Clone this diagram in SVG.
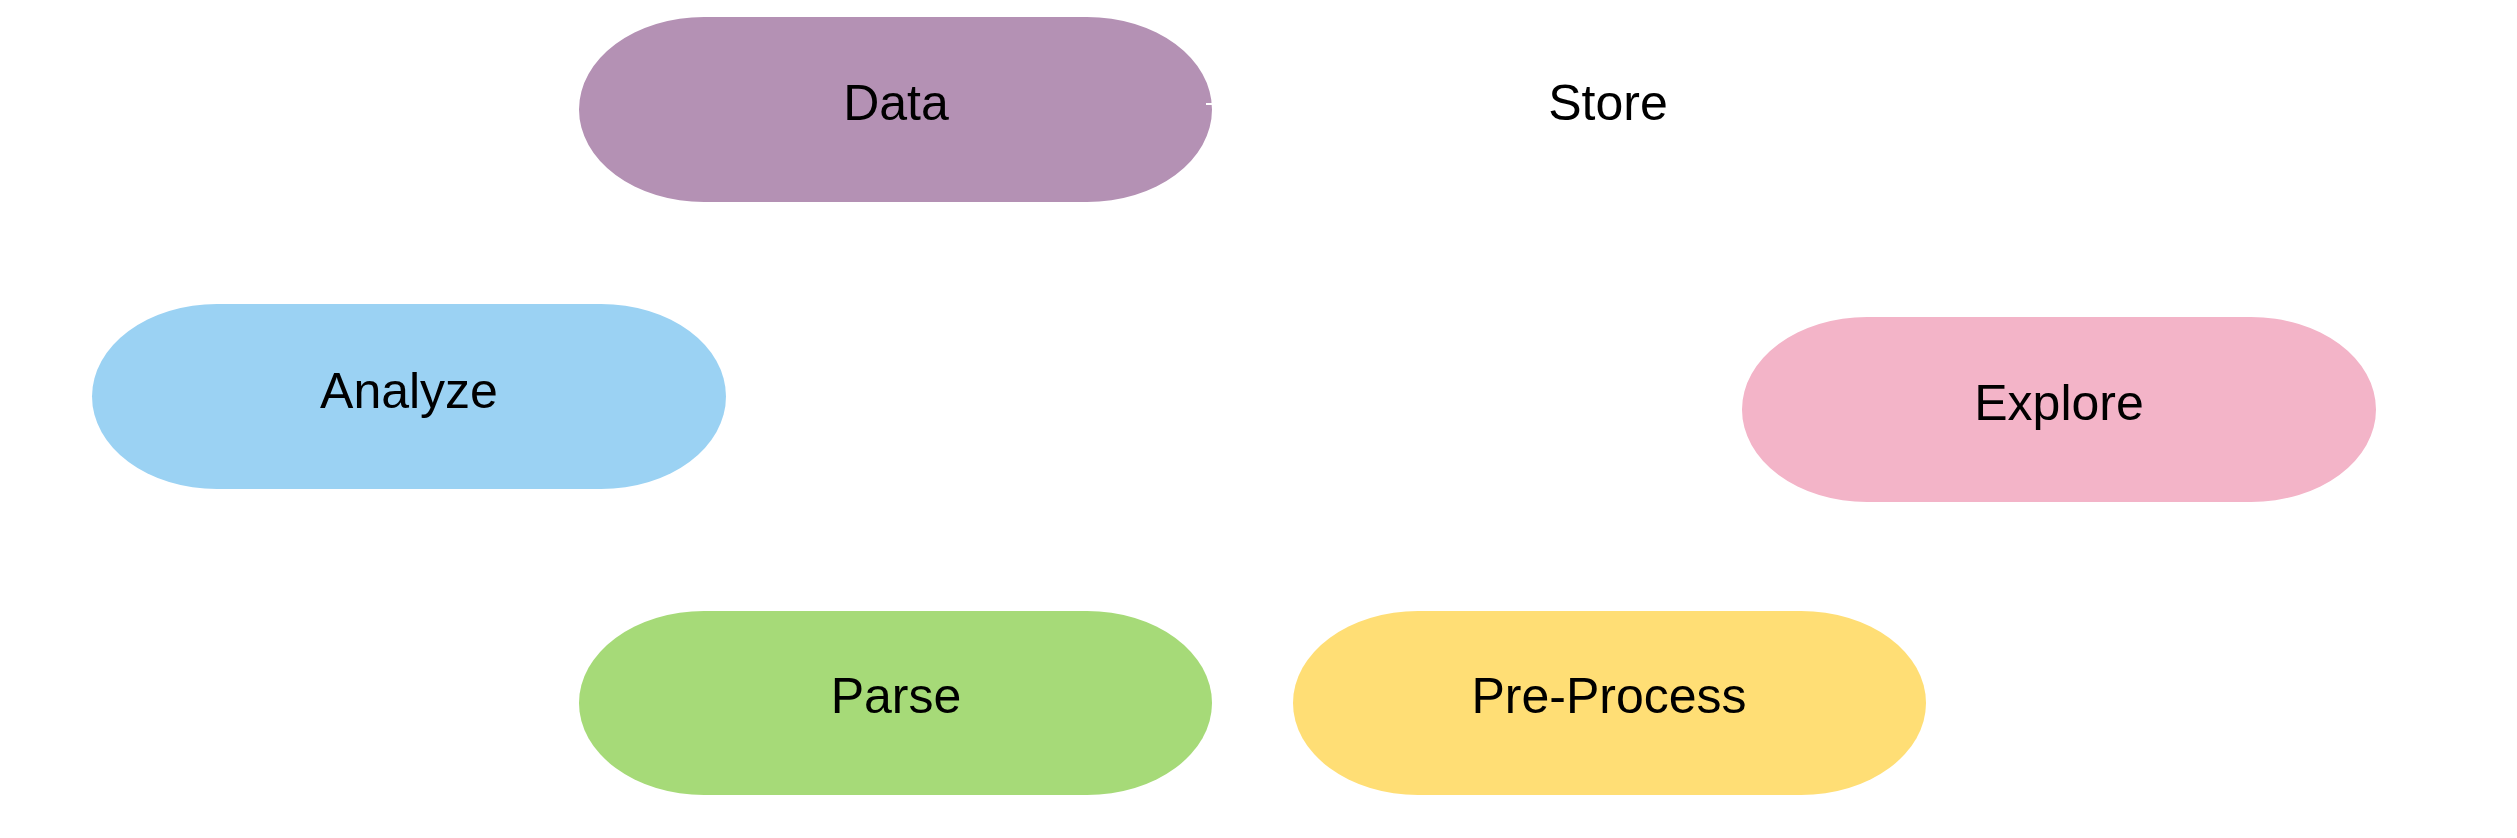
<svg xmlns="http://www.w3.org/2000/svg" width="2517" height="838" viewBox="0 0 2517 838">
<style>
.lbl{font-family:"Liberation Sans",Arial,sans-serif;font-size:50px;fill:#000;text-anchor:middle}
.conn{stroke:#ffffff;stroke-width:2;fill:none}
</style>
<rect x="0" y="0" width="2517" height="838" fill="#ffffff"/>
<g id="node-data">
<path d="M704,17 H1087 A125,92.5 0 0 1 1087,202 H704 A125,92.5 0 0 1 704,17 Z" fill="#b491b4"/>
<text class="lbl" x="896" y="120">Data</text>
</g>
<g id="node-store">
<text class="lbl" x="1608" y="120">Store</text>
</g>
<g id="node-analyze">
<path d="M217,304 H601 A125,92.5 0 0 1 601,489 H217 A125,92.5 0 0 1 217,304 Z" fill="#9bd2f3"/>
<text class="lbl" x="409" y="408">Analyze</text>
</g>
<g id="node-explore">
<path d="M1867,317 H2251 A125,92.5 0 0 1 2251,502 H1867 A125,92.5 0 0 1 1867,317 Z" fill="#f3b4c8"/>
<text class="lbl" x="2059" y="420">Explore</text>
</g>
<g id="node-parse">
<path d="M704,611 H1087 A125,92 0 0 1 1087,795 H704 A125,92 0 0 1 704,611 Z" fill="#a6da78"/>
<text class="lbl" x="896" y="713">Parse</text>
</g>
<g id="node-preprocess">
<path d="M1418,611 H1801 A125,92 0 0 1 1801,795 H1418 A125,92 0 0 1 1418,611 Z" fill="#ffde75"/>
<text class="lbl" x="1609" y="713">Pre-Process</text>
</g>
<g id="connectors">
<line class="conn" x1="1206" y1="104" x2="1213" y2="104"/>
</g>
</svg>
